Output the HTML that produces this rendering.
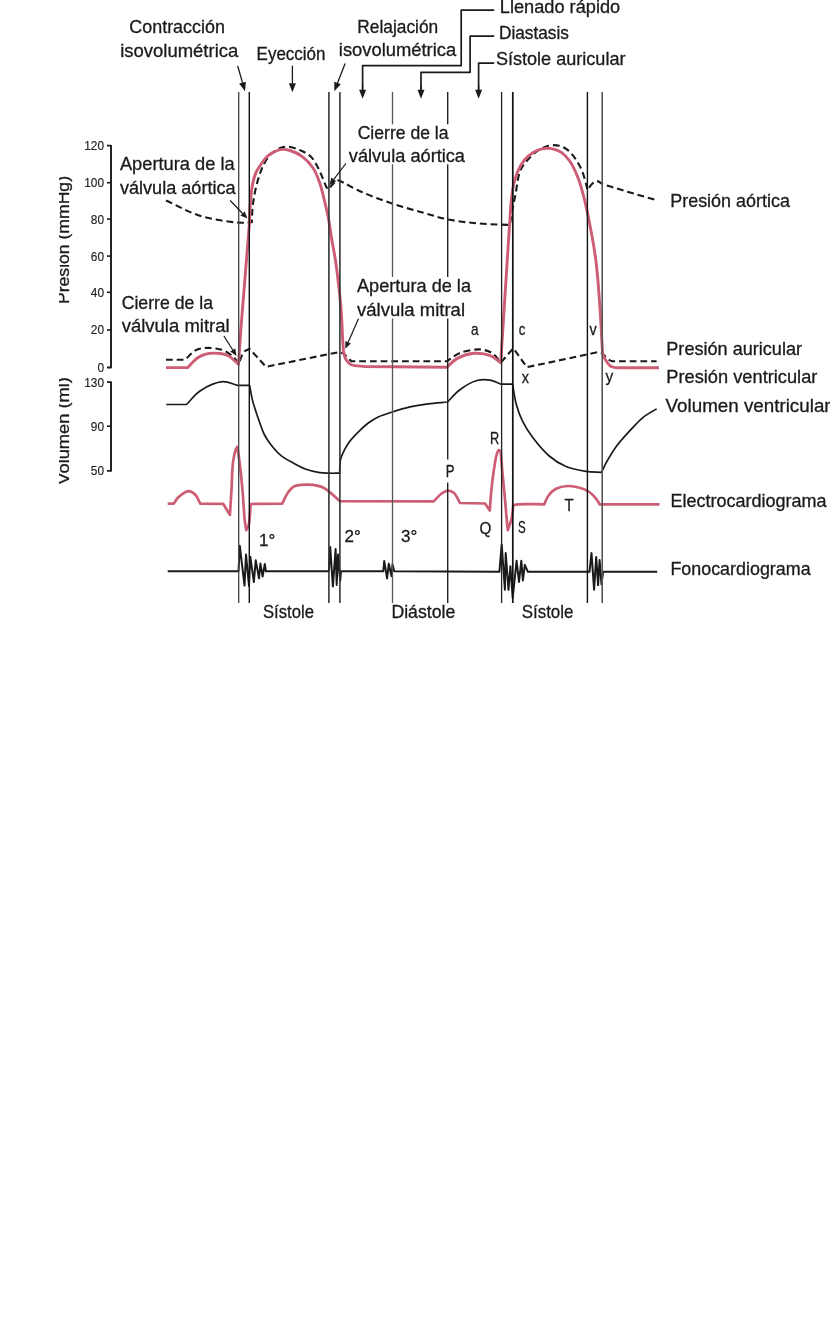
<!DOCTYPE html>
<html><head><meta charset="utf-8"><style>
html,body{margin:0;padding:0;background:#fff;}
svg{display:block;will-change:transform;}
text{font-family:"Liberation Sans",sans-serif;fill:#1a1a1a;stroke:#1a1a1a;stroke-width:0.3px;}
</style></head><body>
<svg width="830" height="1339" viewBox="0 0 830 1339">
<rect width="830" height="1339" fill="#fff"/>

<path d="M107,145.6 H111 V367.5 H107" fill="none" stroke="#1a1a1a" stroke-width="1.9" stroke-linejoin="round" stroke-linecap="butt" />
<path d="M107,182.7 H111" fill="none" stroke="#1a1a1a" stroke-width="1.6" stroke-linejoin="round" stroke-linecap="butt" />
<path d="M107,219.1 H111" fill="none" stroke="#1a1a1a" stroke-width="1.6" stroke-linejoin="round" stroke-linecap="butt" />
<path d="M107,256.1 H111" fill="none" stroke="#1a1a1a" stroke-width="1.6" stroke-linejoin="round" stroke-linecap="butt" />
<path d="M107,292.3 H111" fill="none" stroke="#1a1a1a" stroke-width="1.6" stroke-linejoin="round" stroke-linecap="butt" />
<path d="M107,330 H111" fill="none" stroke="#1a1a1a" stroke-width="1.6" stroke-linejoin="round" stroke-linecap="butt" />
<path d="M107,382.1 H111 V470.9 H107" fill="none" stroke="#1a1a1a" stroke-width="1.9" stroke-linejoin="round" stroke-linecap="butt" />
<path d="M107,426.2 H111" fill="none" stroke="#1a1a1a" stroke-width="1.6" stroke-linejoin="round" stroke-linecap="butt" />
<text x="84.2" y="150.20000000000002" font-size="12.8" textLength="19.8" lengthAdjust="spacingAndGlyphs" style="fill:#222;stroke:#222;stroke-width:0.15px">120</text>
<text x="84.2" y="187.1" font-size="12.8" textLength="19.8" lengthAdjust="spacingAndGlyphs" style="fill:#222;stroke:#222;stroke-width:0.15px">100</text>
<text x="90.8" y="223.5" font-size="12.8" textLength="13.2" lengthAdjust="spacingAndGlyphs" style="fill:#222;stroke:#222;stroke-width:0.15px">80</text>
<text x="90.8" y="260.5" font-size="12.8" textLength="13.2" lengthAdjust="spacingAndGlyphs" style="fill:#222;stroke:#222;stroke-width:0.15px">60</text>
<text x="90.8" y="296.7" font-size="12.8" textLength="13.2" lengthAdjust="spacingAndGlyphs" style="fill:#222;stroke:#222;stroke-width:0.15px">40</text>
<text x="90.8" y="334.4" font-size="12.8" textLength="13.2" lengthAdjust="spacingAndGlyphs" style="fill:#222;stroke:#222;stroke-width:0.15px">20</text>
<text x="97.4" y="371.9" font-size="12.8" textLength="6.6" lengthAdjust="spacingAndGlyphs" style="fill:#222;stroke:#222;stroke-width:0.15px">0</text>
<text x="84.2" y="386.5" font-size="12.8" textLength="19.8" lengthAdjust="spacingAndGlyphs" style="fill:#222;stroke:#222;stroke-width:0.15px">130</text>
<text x="90.8" y="430.59999999999997" font-size="12.8" textLength="13.2" lengthAdjust="spacingAndGlyphs" style="fill:#222;stroke:#222;stroke-width:0.15px">90</text>
<text x="90.8" y="475.29999999999995" font-size="12.8" textLength="13.2" lengthAdjust="spacingAndGlyphs" style="fill:#222;stroke:#222;stroke-width:0.15px">50</text>
<clipPath id="cl"><rect x="59" y="0" width="60" height="700"/></clipPath>
<g clip-path="url(#cl)"><text transform="translate(68.7,304) rotate(-90)" font-size="16.6" textLength="128" lengthAdjust="spacingAndGlyphs">Presión (mmHg)</text><text transform="translate(68.9,484.7) rotate(-90)" font-size="16.6" textLength="107.6" lengthAdjust="spacingAndGlyphs">Volumen (ml)</text></g>
<path d="M166,200.5 C177.47,205.63 188.40,212.22 200.40,215.90 C212.55,219.63 229.04,221.92 238.50,222.60 C244.05,223.00 247.37,222.33 251.80,222.20 C252.00,217.87 252.04,213.32 252.40,209.20 C252.73,205.45 253.20,202.12 253.80,198.50 C254.42,194.73 255.17,190.86 256.10,187.00 C257.06,183.02 258.21,178.80 259.50,175.00 C260.70,171.46 261.83,168.13 263.50,164.90 C265.19,161.62 267.35,157.96 269.60,155.50 C271.45,153.47 273.54,152.17 275.60,150.80 C277.58,149.49 279.43,148.05 281.70,147.40 C284.18,146.69 287.09,146.61 290.00,147.00 C293.40,147.45 297.38,148.95 300.80,150.50 C304.21,152.05 307.80,153.76 310.50,156.30 C313.25,158.88 315.19,162.57 317.10,165.90 C318.98,169.17 320.40,172.67 321.90,176.10 C323.39,179.51 324.88,184.03 326.10,186.40 C326.79,187.74 327.37,188.40 328.00,189.40 L336.5,180 C337.50,180.27 338.08,180.26 339.50,180.80 C343.45,182.31 353.20,188.20 361.10,191.70 C370.23,195.75 381.17,199.86 391.30,203.30 C401.27,206.68 411.67,209.44 421.40,212.20 C430.50,214.78 438.63,217.54 447.90,219.40 C457.84,221.39 468.81,222.57 479.20,223.50 C489.44,224.42 499.60,224.50 509.80,225.00 C510.67,219.97 511.47,214.92 512.40,209.90 C513.33,204.89 514.28,200.49 515.40,194.90 C516.81,187.81 517.69,176.88 520.20,170.80 C521.93,166.60 524.20,164.04 526.70,161.00 C529.25,157.90 531.99,154.86 535.40,152.40 C539.12,149.71 544.15,146.82 548.40,145.80 C552.06,144.92 555.88,145.01 559.20,145.80 C562.35,146.55 565.27,148.16 567.90,150.20 C570.76,152.42 573.22,155.63 575.50,158.90 C577.97,162.44 580.22,166.57 582.00,170.80 C583.85,175.21 585.35,181.34 586.30,184.90 C586.87,187.04 587.10,188.37 587.50,190.10 C589.00,188.07 590.27,185.54 592.00,184.00 C593.52,182.65 595.37,181.11 597.10,181.10 C598.87,181.09 600.70,183.10 602.50,184.10 C611.67,186.90 620.84,189.78 630.00,192.50 C639.11,195.21 648.20,197.77 657.30,200.40" fill="none" stroke="#1a1a1a" stroke-width="2.1" stroke-linejoin="round" stroke-linecap="butt" stroke-dasharray="6.8 3.9" />
<path d="M166,359.8 L185.2,359.8 C188.60,356.67 191.81,352.35 195.40,350.40 C198.40,348.77 201.52,348.34 204.80,348.00 C208.30,347.64 212.31,347.94 215.80,348.50 C219.09,349.02 222.20,349.62 225.20,351.10 C228.50,352.73 232.28,355.75 234.60,358.20 C236.38,360.09 237.20,362.07 238.50,364.00 C240.33,359.97 241.68,354.43 244.00,351.90 C245.60,350.15 247.67,349.83 249.50,348.80 C252.87,352.47 256.64,356.54 259.60,359.80 C261.95,362.39 263.80,364.47 265.90,366.80 L339.5,352 C340.97,352.67 342.35,352.93 343.90,354.00 C346.18,355.57 348.83,358.87 351.30,361.30 L446.8,361.3 C451.20,358.53 454.97,354.97 460.00,353.00 C465.66,350.79 473.66,349.13 479.40,349.40 C484.08,349.62 488.45,350.78 492.00,353.00 C495.54,355.22 497.80,359.47 500.70,362.70 L513.3,348.2 L526.9,367.2 L598.7,352 L602.6,353.2 C604.37,355.20 606.11,357.84 607.90,359.20 C609.25,360.23 610.63,360.53 612.00,361.20 L656.6,361.2" fill="none" stroke="#1a1a1a" stroke-width="2.1" stroke-linejoin="round" stroke-linecap="butt" stroke-dasharray="6.8 3.9" />
<path d="M166,367.6 L187.6,367.6 C190.73,364.47 193.82,360.49 197.00,358.20 C199.57,356.35 201.65,355.13 204.80,354.30 C209.03,353.19 216.21,352.99 220.50,353.50 C223.59,353.87 225.67,354.40 228.30,355.80 C231.66,357.59 235.10,361.47 238.50,364.30 L240.8,330 L249.4,223.6 C249.63,218.13 249.69,212.95 250.10,207.20 C250.55,200.81 251.05,193.01 252.10,187.00 C252.97,182.04 253.94,177.42 255.50,173.60 C256.78,170.46 258.40,168.19 260.20,165.50 C262.15,162.59 264.48,159.12 266.90,156.80 C268.99,154.80 271.16,153.33 273.60,152.10 C276.09,150.85 278.95,149.66 281.70,149.40 C284.42,149.14 287.05,149.62 290.00,150.50 C293.72,151.61 298.32,153.62 302.00,156.30 C306.01,159.22 309.99,163.40 312.90,167.70 C315.83,172.02 317.64,177.04 319.50,182.20 C321.50,187.75 322.80,193.90 324.30,200.00 C325.87,206.38 327.47,213.20 328.70,219.70 C329.89,225.99 330.53,231.95 331.60,238.40 C332.75,245.35 334.27,252.60 335.40,260.00 C336.59,267.78 337.56,275.76 338.50,284.00 C339.50,292.73 340.52,302.01 341.20,311.00 C341.88,319.94 342.18,330.43 342.60,337.80 C342.89,342.97 343.13,346.60 343.40,351.00 C344.23,353.80 344.49,357.07 345.90,359.40 C347.21,361.57 348.83,363.50 351.30,364.70 C354.64,366.33 360.43,365.90 365.00,366.50 L446.8,367.2 C450.60,364.10 453.81,360.20 458.20,357.90 C462.87,355.46 468.82,353.67 474.20,353.30 C479.52,352.93 485.69,353.81 490.30,355.60 C494.35,357.17 497.23,360.33 500.70,362.70 L510.8,205 C511.70,198.33 512.14,191.04 513.50,185.00 C514.66,179.81 516.05,175.11 518.00,170.80 C519.79,166.84 521.89,163.11 524.50,160.00 C527.00,157.02 530.03,154.32 533.20,152.40 C536.22,150.57 539.78,149.20 543.00,148.60 C545.91,148.06 548.69,148.06 551.60,148.60 C554.82,149.20 558.44,150.41 561.40,152.40 C564.63,154.57 567.48,157.92 570.00,161.50 C572.84,165.54 575.19,170.87 577.20,175.70 C579.17,180.41 580.46,184.71 582.00,190.10 C583.92,196.82 585.62,203.98 587.50,213.00 C590.17,225.81 593.76,244.33 595.80,259.80 C597.78,274.83 598.59,289.22 599.70,304.50 C600.87,320.55 601.63,337.43 602.60,353.90 C603.40,355.60 603.87,357.20 605.00,359.00 C606.49,361.37 608.79,365.18 611.20,366.60 C613.22,367.79 615.73,367.40 618.00,367.80 L659,367.8" fill="none" stroke="#cc5d75" stroke-width="2.9" stroke-linejoin="round" stroke-linecap="butt" />
<path d="M166.3,404.5 L186.6,404.5 C191.07,400.00 194.51,394.67 200.00,391.00 C206.22,386.84 215.77,382.22 222.60,381.70 C228.01,381.28 232.53,384.10 237.50,385.30 L249.6,385.3 C250.47,389.90 251.04,394.38 252.20,399.10 C253.46,404.20 255.14,409.30 257.00,414.80 C259.10,421.02 261.73,429.31 264.30,434.50 C266.13,438.20 267.62,440.38 270.00,443.50 C272.96,447.38 277.06,452.38 281.10,455.70 C284.84,458.77 289.13,460.76 293.20,463.00 C297.17,465.18 300.92,467.42 305.20,469.00 C309.72,470.67 315.34,471.93 319.70,472.60 C323.20,473.14 326.04,473.10 329.30,473.20 C332.67,473.31 336.17,473.20 339.60,473.20 C339.93,468.60 339.64,463.52 340.60,459.40 C341.43,455.84 342.99,452.78 344.50,449.80 C345.92,447.00 347.27,444.70 349.30,442.00 C351.83,438.62 355.60,434.67 358.90,431.40 C362.04,428.29 365.26,425.26 368.60,422.80 C371.71,420.51 374.63,418.69 378.20,417.00 C382.23,415.09 386.83,413.77 391.70,412.20 C397.31,410.39 403.89,408.31 410.00,406.90 C415.99,405.52 421.86,404.61 428.00,403.80 C434.35,402.96 441.00,402.60 447.50,402.00 C451.43,398.07 454.74,393.64 459.30,390.20 C464.21,386.50 470.70,382.38 476.20,380.80 C480.80,379.48 485.41,379.49 489.70,380.10 C493.83,380.69 497.57,382.83 501.50,384.20 L512.5,384.2 C513.80,391.07 514.62,398.39 516.40,404.80 C518.03,410.65 519.87,415.87 522.50,421.20 C525.27,426.81 528.70,432.15 532.80,437.60 C537.42,443.75 543.37,451.06 549.20,456.00 C554.35,460.37 559.53,463.75 565.50,466.30 C571.75,468.97 579.61,470.41 586.00,471.40 C591.46,472.25 596.27,472.07 601.40,472.40 C603.10,469.00 604.39,465.95 606.50,462.20 C609.24,457.32 612.85,451.12 616.80,445.80 C620.99,440.16 626.43,434.40 631.10,429.40 C635.28,424.93 639.00,420.58 643.40,417.10 C647.57,413.81 652.27,411.63 656.70,408.90" fill="none" stroke="#1a1a1a" stroke-width="1.7" stroke-linejoin="round" stroke-linecap="butt" />
<path d="M167.7,503.6 L173.7,503.6 C175.33,501.43 176.47,499.05 178.60,497.10 C181.11,494.80 185.19,491.24 188.20,491.10 C190.74,490.98 193.46,492.82 195.40,494.70 C197.58,496.81 198.60,500.63 200.20,503.60 L223.1,503.8 L229.9,514.9 C230.43,506.57 230.99,498.43 231.50,489.90 C232.03,480.95 232.07,469.61 233.00,462.40 C233.61,457.65 234.44,453.51 235.40,450.70 C235.98,449.00 236.67,448.10 237.30,446.80 C238.23,453.30 239.25,459.23 240.10,466.30 C241.11,474.67 242.02,484.64 242.80,493.80 C243.58,502.94 244.01,514.56 244.80,521.20 C245.26,525.03 245.80,527.20 246.30,530.20 C247.10,528.50 248.06,527.46 248.70,525.10 C249.95,520.53 250.03,511.03 250.70,504.00 L282.2,503.6 C284.20,499.83 285.95,495.34 288.20,492.30 C290.03,489.82 291.47,487.62 294.20,486.30 C297.78,484.57 303.89,484.40 308.70,484.60 C313.52,484.80 318.38,485.28 323.10,487.50 C328.85,490.21 334.37,496.63 340.00,501.20 L433.6,501.4 C436.07,498.93 438.40,495.85 441.00,494.00 C443.24,492.41 445.74,490.68 448.00,490.60 C450.06,490.53 452.22,491.48 454.00,493.00 C456.39,495.04 458.00,499.67 460.00,503.00 L485,503.5 L489.8,510.5 C490.30,504.00 490.65,497.51 491.30,491.00 C491.95,484.44 492.74,477.63 493.70,471.30 C494.60,465.36 495.57,457.74 496.80,454.10 C497.42,452.28 498.03,450.35 498.80,450.20 C499.38,450.08 500.07,451.27 500.70,451.80 C501.23,458.30 501.69,464.49 502.30,471.30 C502.97,478.79 503.84,486.74 504.60,494.90 C505.41,503.69 506.40,515.95 507.00,522.30 C507.32,525.69 507.53,527.50 507.80,530.10 C509.10,526.20 510.79,522.48 511.70,518.40 C512.66,514.13 512.77,509.47 513.30,505.00 C514.87,504.77 515.79,504.46 518.00,504.30 C523.19,503.92 535.47,504.30 544.20,504.30 C545.60,501.43 546.52,498.24 548.40,495.70 C550.31,493.13 552.64,490.60 555.60,489.00 C558.93,487.20 563.66,486.19 567.70,486.00 C571.69,485.81 575.99,486.73 579.70,487.80 C583.15,488.79 586.48,490.07 589.30,492.00 C592.10,493.91 594.80,496.99 596.60,499.30 C597.96,501.04 598.60,502.63 599.60,504.30 L659.5,504.3" fill="none" stroke="#cc5d75" stroke-width="2.7" stroke-linejoin="round" stroke-linecap="butt" />
<path d="M167.7,571.3 L238.5,571.3 L239.8,545.8 L244.5,585.6 L246,554.5 L249,586 L250.3,556.7 L253.9,582 L255.7,560.3 L259,578.4 L260.4,563.6 L262.6,576.6 L264.8,563.9 L265.9,571.3 L328.9,571.3 L330.2,546.9 L332.9,586.5 L335.6,549.1 L336.7,584.9 L338,554.5 L340.2,580.6 L341,571.3 L383.3,571.3 L384.2,561 L387.1,578.4 L388.8,563.7 L391.5,576.2 L392.5,564.3 L394.2,571.3 L499.4,571.8 L501.7,544.4 L504.9,589.8 L505.7,553 L508.5,589.8 L510.4,566.3 L512.7,597.6 L516.6,560.8 L519,582 L521.3,560.8 L522.9,580.4 L524.8,564.8 L527.9,571.8 L589.5,571.8 L591.5,553 L594.1,589.8 L596.2,556.9 L598.1,585.1 L599.6,560 L601.5,584.3 L603.1,571.8 L657.2,571.8" fill="none" stroke="#1a1a1a" stroke-width="2.0" stroke-linejoin="round" stroke-linecap="butt" />
<line x1="238.7" y1="92" x2="238.7" y2="603" stroke="#444" stroke-width="1.3"/>
<line x1="249.3" y1="92" x2="249.3" y2="603" stroke="#111" stroke-width="1.4"/>
<line x1="328.9" y1="92" x2="328.9" y2="603" stroke="#333" stroke-width="1.6"/>
<line x1="339.9" y1="92" x2="339.9" y2="603" stroke="#333" stroke-width="1.6"/>
<line x1="392.5" y1="92" x2="392.5" y2="603" stroke="#555" stroke-width="1.3"/>
<line x1="447.7" y1="92" x2="447.7" y2="603" stroke="#222" stroke-width="1.4"/>
<line x1="501.6" y1="92" x2="501.6" y2="603" stroke="#222" stroke-width="1.3"/>
<line x1="512.8" y1="92" x2="512.8" y2="603" stroke="#111" stroke-width="1.7"/>
<line x1="587.4" y1="92" x2="587.4" y2="603" stroke="#111" stroke-width="1.4"/>
<line x1="602.2" y1="92" x2="602.2" y2="603" stroke="#555" stroke-width="1.6"/>
<path d="M237.7,66 L242.50,82.65" fill="none" stroke="#1a1a1a" stroke-width="1.3" stroke-linejoin="round" stroke-linecap="butt" /><path d="M245,91.3 L239.14,83.62 L245.87,81.68 Z" fill="#1a1a1a"/>
<path d="M292.4,65.7 L292.40,83.20" fill="none" stroke="#1a1a1a" stroke-width="1.3" stroke-linejoin="round" stroke-linecap="butt" /><path d="M292.4,92.2 L288.90,83.20 L295.90,83.20 Z" fill="#1a1a1a"/>
<path d="M345.1,63.4 L337.55,82.91" fill="none" stroke="#1a1a1a" stroke-width="1.3" stroke-linejoin="round" stroke-linecap="butt" /><path d="M334.3,91.3 L334.28,81.64 L340.81,84.17 Z" fill="#1a1a1a"/>
<path d="M494.2,10.1 H461.2 V65.7 H362.6 V90" fill="none" stroke="#1a1a1a" stroke-width="1.7" stroke-linejoin="round" stroke-linecap="butt" />
<path d="M362.6,85 L362.60,89.80" fill="none" stroke="#1a1a1a" stroke-width="1.3" stroke-linejoin="round" stroke-linecap="butt" /><path d="M362.6,98.8 L359.10,89.80 L366.10,89.80 Z" fill="#1a1a1a"/>
<path d="M494.2,36.1 H470.1 V72.3 H421 V90" fill="none" stroke="#1a1a1a" stroke-width="1.7" stroke-linejoin="round" stroke-linecap="butt" />
<path d="M421,85 L421.00,89.80" fill="none" stroke="#1a1a1a" stroke-width="1.3" stroke-linejoin="round" stroke-linecap="butt" /><path d="M421,98.8 L417.50,89.80 L424.50,89.80 Z" fill="#1a1a1a"/>
<path d="M494.2,63.1 H478.6 V90" fill="none" stroke="#1a1a1a" stroke-width="1.7" stroke-linejoin="round" stroke-linecap="butt" />
<path d="M478.6,85 L478.60,89.80" fill="none" stroke="#1a1a1a" stroke-width="1.3" stroke-linejoin="round" stroke-linecap="butt" /><path d="M478.6,98.8 L475.10,89.80 L482.10,89.80 Z" fill="#1a1a1a"/>
<path d="M230.2,200.5 L242.58,213.53" fill="none" stroke="#1a1a1a" stroke-width="1.2" stroke-linejoin="round" stroke-linecap="butt" /><path d="M247.4,218.6 L240.40,215.59 L244.75,211.46 Z" fill="#1a1a1a"/>
<path d="M223.9,336 L232.76,349.99" fill="none" stroke="#1a1a1a" stroke-width="1.2" stroke-linejoin="round" stroke-linecap="butt" /><path d="M236.5,355.9 L230.22,351.59 L235.29,348.38 Z" fill="#1a1a1a"/>
<path d="M346.6,162.5 L333.74,179.43" fill="none" stroke="#1a1a1a" stroke-width="1.2" stroke-linejoin="round" stroke-linecap="butt" /><path d="M329.5,185 L331.35,177.61 L336.12,181.24 Z" fill="#1a1a1a"/>
<path d="M358.6,318.6 L348.13,342.30" fill="none" stroke="#1a1a1a" stroke-width="1.2" stroke-linejoin="round" stroke-linecap="butt" /><path d="M345.3,348.7 L345.39,341.08 L350.87,343.51 Z" fill="#1a1a1a"/>
<rect x="346" y="124.3" width="122" height="40" fill="#fff"/>
<rect x="355" y="277" width="120" height="41.5" fill="#fff"/>
<rect x="443.5" y="459.5" width="13.5" height="23" fill="#fff"/>
<text x="129.3" y="32.7" font-size="17.8" textLength="95.6" lengthAdjust="spacingAndGlyphs">Contracción</text>
<text x="120.2" y="56.8" font-size="17.8" textLength="118.1" lengthAdjust="spacingAndGlyphs">isovolumétrica</text>
<text x="256.6" y="59.8" font-size="17.8" textLength="68.9" lengthAdjust="spacingAndGlyphs">Eyección</text>
<text x="357.3" y="32.5" font-size="17.8" textLength="80.9" lengthAdjust="spacingAndGlyphs">Relajación</text>
<text x="338.8" y="56.4" font-size="17.8" textLength="117.4" lengthAdjust="spacingAndGlyphs">isovolumétrica</text>
<text x="499.8" y="12.5" font-size="17.8" textLength="120.4" lengthAdjust="spacingAndGlyphs">Llenado rápido</text>
<text x="499" y="38.6" font-size="17.8" textLength="69.9" lengthAdjust="spacingAndGlyphs">Diastasis</text>
<text x="495.9" y="65" font-size="17.8" textLength="129.6" lengthAdjust="spacingAndGlyphs">Sístole auricular</text>
<text x="119.9" y="169.8" font-size="17.8" textLength="114.8" lengthAdjust="spacingAndGlyphs">Apertura de la</text>
<text x="119.9" y="194.2" font-size="17.8" textLength="115.7" lengthAdjust="spacingAndGlyphs">válvula aórtica</text>
<text x="357.7" y="138.5" font-size="17.8" textLength="90.8" lengthAdjust="spacingAndGlyphs">Cierre de la</text>
<text x="348.8" y="162" font-size="17.8" textLength="116.2" lengthAdjust="spacingAndGlyphs">válvula aórtica</text>
<text x="670.2" y="206.6" font-size="17.8" textLength="119.8" lengthAdjust="spacingAndGlyphs">Presión aórtica</text>
<text x="121.7" y="308.9" font-size="17.8" textLength="91.3" lengthAdjust="spacingAndGlyphs">Cierre de la</text>
<text x="121.7" y="332.4" font-size="17.8" textLength="107.9" lengthAdjust="spacingAndGlyphs">válvula mitral</text>
<text x="357" y="292" font-size="17.8" textLength="114" lengthAdjust="spacingAndGlyphs">Apertura de la</text>
<text x="357" y="316.1" font-size="17.8" textLength="108" lengthAdjust="spacingAndGlyphs">válvula mitral</text>
<text x="666.3" y="355.4" font-size="17.8" textLength="135.7" lengthAdjust="spacingAndGlyphs">Presión auricular</text>
<text x="666.3" y="383" font-size="17.8" textLength="151.1" lengthAdjust="spacingAndGlyphs">Presión ventricular</text>
<text x="665.6" y="412.2" font-size="17.8" textLength="165" lengthAdjust="spacingAndGlyphs">Volumen ventricular</text>
<text x="670.4" y="507.1" font-size="17.8" textLength="156.2" lengthAdjust="spacingAndGlyphs">Electrocardiograma</text>
<text x="670.4" y="575.3" font-size="17.8" textLength="140.2" lengthAdjust="spacingAndGlyphs">Fonocardiograma</text>
<text x="263" y="617.6" font-size="17.8" textLength="51" lengthAdjust="spacingAndGlyphs">Sístole</text>
<text x="391.4" y="617.8" font-size="17.8" textLength="63.9" lengthAdjust="spacingAndGlyphs">Diástole</text>
<text x="521.7" y="617.8" font-size="17.8" textLength="51.8" lengthAdjust="spacingAndGlyphs">Sístole</text>
<text x="471" y="335" font-size="17" textLength="7.6" lengthAdjust="spacingAndGlyphs">a</text>
<text x="518.7" y="335" font-size="17" textLength="6.6" lengthAdjust="spacingAndGlyphs">c</text>
<text x="589.6" y="335" font-size="17" textLength="7.2" lengthAdjust="spacingAndGlyphs">v</text>
<text x="521.7" y="382.5" font-size="17" textLength="7.2" lengthAdjust="spacingAndGlyphs">x</text>
<text x="605.5" y="382" font-size="17" textLength="7.7" lengthAdjust="spacingAndGlyphs">y</text>
<text x="490" y="444" font-size="17" textLength="9.2" lengthAdjust="spacingAndGlyphs">R</text>
<text x="445.7" y="477" font-size="17" textLength="8.8" lengthAdjust="spacingAndGlyphs">P</text>
<text x="479.4" y="534" font-size="17" textLength="11.9" lengthAdjust="spacingAndGlyphs">Q</text>
<text x="518" y="533" font-size="17" textLength="7.7" lengthAdjust="spacingAndGlyphs">S</text>
<text x="564.6" y="511" font-size="17" textLength="9.1" lengthAdjust="spacingAndGlyphs">T</text>
<text x="259" y="546" font-size="17">1°</text>
<text x="344.5" y="542.4" font-size="17">2°</text>
<text x="401" y="542" font-size="17">3°</text>
</svg></body></html>
